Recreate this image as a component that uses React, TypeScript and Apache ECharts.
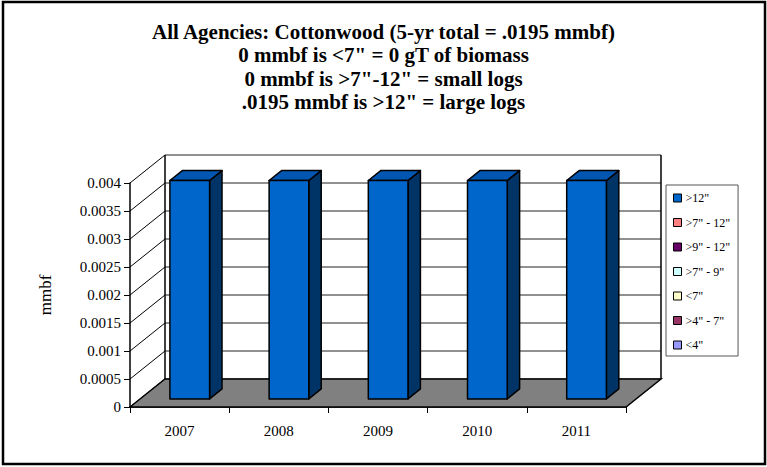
import React, { useEffect, useRef } from "react";
import * as echarts from "echarts";

const categories = ["2007", "2008", "2009", "2010", "2011"];
const largeLogs = [0.0039, 0.0039, 0.0039, 0.0039, 0.0039];
const yTicks = [0, 0.0005, 0.001, 0.0015, 0.002, 0.0025, 0.003, 0.0035, 0.004];
const legendNames = ['>12"', '>7" - 12"', '>9" - 12"', '>7" - 9"', '<7"', '>4" - 7"', '<4"'];
const legendColors = ["#0066CC", "#FF8080", "#660066", "#CCFFFF", "#FFFFCC", "#993366", "#9999FF"];
const titleLines = [
  "All Agencies: Cottonwood (5-yr total = .0195 mmbf)",
  '0 mmbf is <7" = 0 gT of biomass',
  '0 mmbf is >7"-12" = small logs',
  '.0195 mmbf is >12" = large logs',
];

const FONT = "'Liberation Serif', 'Times New Roman', serif";
const DX = 35;
const DY = 28;

export default function App() {
  const ref = useRef<HTMLDivElement>(null);
  useEffect(() => {
    if (!ref.current) return;
    const chart = echarts.init(ref.current, null, { renderer: "svg" });

    const frameRender = (params: any, api: any) => {
      const cs = params.coordSys;
      const left = cs.x;
      const top = cs.y;
      const w = cs.width;
      const bottom = top + cs.height;
      const children: any[] = [];
      children.push({
        type: "polygon",
        shape: { points: [[left + DX, top - DY], [left + DX + w, top - DY], [left + DX + w, bottom - DY], [left + DX, bottom - DY]] },
        style: { fill: "#fff", stroke: null },
      });
      yTicks.forEach((v) => {
        const y = api.coord([0, v])[1];
        children.push({
          type: "line",
          shape: { x1: left, y1: y, x2: left + DX, y2: y - DY },
          style: { stroke: "#000", lineWidth: 1 },
        });
        children.push({
          type: "line",
          shape: { x1: left + DX, y1: y - DY, x2: left + DX + w, y2: y - DY },
          style: { stroke: "#222", lineWidth: 1 },
        });
      });
      children.push({
        type: "line",
        shape: { x1: left + DX, y1: top - DY, x2: left + DX, y2: bottom - DY },
        style: { stroke: "#000", lineWidth: 1.5 },
      });
      children.push({
        type: "line",
        shape: { x1: left + DX + w, y1: top - DY, x2: left + DX + w, y2: bottom - DY },
        style: { stroke: "#000", lineWidth: 1.5 },
      });
      children.push({
        type: "polygon",
        shape: { points: [[left, bottom], [left + DX, bottom - DY], [left + DX + w, bottom - DY], [left + w, bottom]] },
        style: { fill: "#808080", stroke: "#000", lineWidth: 1.5 },
      });
      return { type: "group", children };
    };

    const barRender = (params: any, api: any) => {
      const i = api.value(0);
      const p0 = api.coord([i, 0]);
      const p1 = api.coord([i, api.value(1)]);
      const bw = api.size([1, 0])[0] * 0.4;
      const d0x = DX * 0.29, d0y = DY * 0.29;
      const d1x = DX * 0.645, d1y = DY * 0.645;
      const xl = p0[0] + d0x - bw / 2;
      const xr = p0[0] + d0x + bw / 2;
      const yb = p0[1] - d0y;
      const yt = p1[1] - d0y;
      const ddx = d1x - d0x, ddy = d1y - d0y;
      const st = { stroke: "#000", lineWidth: 1.5, lineJoin: "round" };
      return {
        type: "group",
        children: [
          { type: "polygon", shape: { points: [[xr, yt], [xr + ddx, yt - ddy], [xr + ddx, yb - ddy], [xr, yb]] }, style: { ...st, fill: "#003366" } },
          { type: "polygon", shape: { points: [[xl, yt], [xl + ddx, yt - ddy], [xr + ddx, yt - ddy], [xr, yt]] }, style: { ...st, fill: "#0056B0" } },
          { type: "rect", shape: { x: xl, y: yt, width: xr - xl, height: yb - yt }, style: { ...st, fill: "#0066CC" } },
        ],
      };
    };

    const series: any[] = [
      {
        type: "custom",
        name: "frame",
        z: 1,
        clip: false,
        data: [[0, 0]],
        encode: { x: 0, y: 1 },
        renderItem: frameRender,
        silent: true,
      },
      {
        type: "custom",
        name: legendNames[0],
        z: 3,
        clip: false,
        itemStyle: { color: legendColors[0] },
        data: largeLogs.map((v, i) => [i, v]),
        encode: { x: 0, y: 1 },
        renderItem: barRender,
      },
    ];
    for (let k = 1; k < legendNames.length; k++) {
      series.push({
        type: "custom",
        name: legendNames[k],
        itemStyle: { color: legendColors[k] },
        data: [],
        renderItem: () => null,
      });
    }

    chart.setOption({
      animation: false,
      backgroundColor: "#fff",
      title: {
        text: titleLines.join("\n"),
        left: "center",
        top: 20,
        padding: 0,
        textStyle: { fontFamily: FONT, fontSize: 21, fontWeight: "bold", lineHeight: 23.5, color: "#000" },
      },
      legend: {
        orient: "vertical",
        left: 666,
        top: 185,
        padding: [7, 8, 5, 7],
        itemGap: 12.5,
        itemWidth: 8,
        itemHeight: 8,
        icon: "rect",
        borderColor: "#555",
        borderWidth: 1,
        data: legendNames.map((n, k) => ({ name: n, itemStyle: { color: legendColors[k], borderColor: "#000", borderWidth: 1 } })),
        textStyle: { fontFamily: FONT, fontSize: 12, lineHeight: 12, color: "#000", padding: [0, 0, 0, -1] },
        selectedMode: false,
      },
      grid: { left: 130, right: 141, top: 183, bottom: 60, containLabel: false },
      xAxis: {
        type: "category",
        data: categories,
        boundaryGap: true,
        axisLine: { show: true, lineStyle: { color: "#000", width: 1.5 } },
        axisTick: { show: true, length: 6, interval: 0, alignWithLabel: false, lineStyle: { color: "#000" } },
        axisLabel: { color: "#000", fontFamily: FONT, fontSize: 15, margin: 16 },
        splitLine: { show: false },
      },
      yAxis: {
        type: "value",
        min: 0,
        max: 0.004,
        interval: 0.0005,
        name: "mmbf",
        nameLocation: "middle",
        nameRotate: 90,
        nameGap: 76,
        nameTextStyle: { fontFamily: FONT, fontSize: 17, color: "#000" },
        axisLine: { show: true, lineStyle: { color: "#000", width: 1.5 } },
        axisTick: { show: true, length: 6, lineStyle: { color: "#000" } },
        axisLabel: { color: "#000", fontFamily: FONT, fontSize: 15, margin: 9 },
        splitLine: { show: false },
      },
      graphic: [
        {
          type: "rect",
          shape: { x: 3, y: 2, width: 762, height: 462 },
          style: { fill: null, stroke: "#000", lineWidth: 2.5 },
          z: 10,
          silent: true,
        },
      ],
      series,
    });
    return () => chart.dispose();
  }, []);
  return <div ref={ref} style={{ position: "fixed", left: 0, top: 0, width: 767, height: 467 }} />;
}
